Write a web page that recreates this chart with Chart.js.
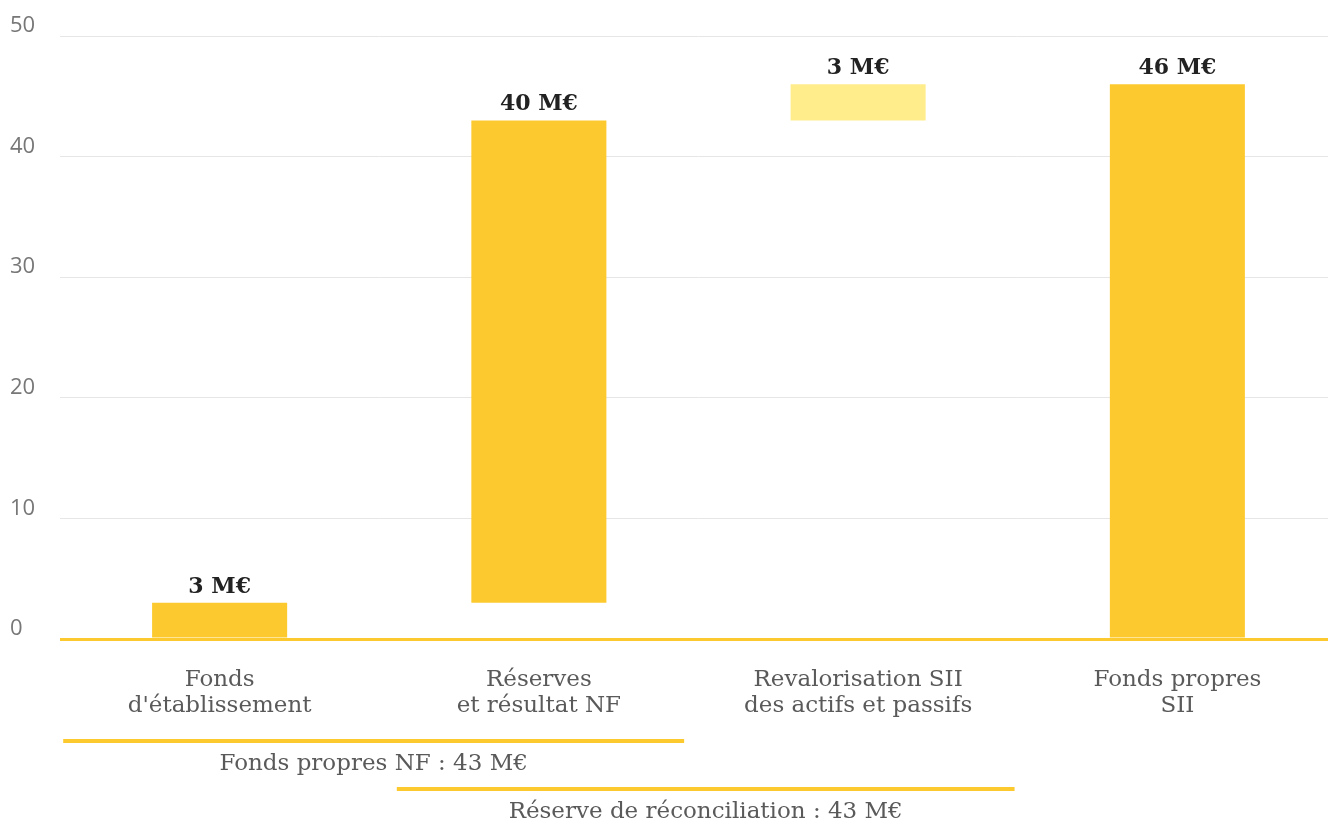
<!DOCTYPE html>
<html>
<head>
<meta charset="utf-8">
<script src="https://cdn.jsdelivr.net/npm/chart.js@4"></script>
<style>
  html, body { margin: 0; padding: 0; background: #fff; overflow: hidden; }
  .container-canva { position: relative; width: 1337px; height: 820px; }
</style>
</head>
<body>
<div class="container-canva"><canvas id="myChart"></canvas></div>
<script>
const categories = [
	["Fonds", "d'établissement"],
	["Réserves", "et résultat NF"],
	["Revalorisation SII", "des actifs et passifs"],
	["Fonds propres", "SII"],
];
const barStart = [0, 3, 43, 0];
const barEnd = [3, 43, 46, 46];
const valueLabels = ["3 M€", "40 M€", "3 M€", "46 M€"];
const yTicks = [0, 10, 20, 30, 40, 50];

// brackets under the axis, in category index units
const bracketLabels = ["Fonds propres NF : 43 M€", "Réserve de réconciliation : 43 M€"];
const bracketFrom = [-0.49, 0.555];
const bracketTo = [1.455, 2.49];

const yellow = "#fcca2e";
const lightYellow = "#ffed8c";
const barColors = [yellow, yellow, lightYellow, yellow];

const serif = "'DejaVu Serif', serif";

const valueLabelPlugin = {
	id: "valueLabels",
	afterDatasetsDraw(chart) {
		const { ctx } = chart;
		const meta = chart.getDatasetMeta(0);
		ctx.save();
		ctx.font = "bold 22px " + serif;
		ctx.fillStyle = "#222";
		ctx.textAlign = "center";
		ctx.textBaseline = "alphabetic";
		meta.data.forEach((bar, i) => {
			ctx.fillText(valueLabels[i], bar.x, Math.min(bar.y, bar.base) - 10);
		});
		ctx.restore();
	},
};

const bracketPlugin = {
	id: "brackets",
	afterDraw(chart) {
		const { ctx } = chart;
		const x = chart.scales.x;
		ctx.save();
		ctx.font = "23px " + serif;
		ctx.fillStyle = "#5a5a5a";
		ctx.textAlign = "center";
		ctx.textBaseline = "middle";
		ctx.strokeStyle = yellow;
		ctx.lineWidth = 4;
		bracketLabels.forEach((label, i) => {
			const x1 = x.getPixelForValue(bracketFrom[i]);
			const x2 = x.getPixelForValue(bracketTo[i]);
			const y = 741 + i * 48;
			ctx.beginPath();
			ctx.moveTo(x1, y);
			ctx.lineTo(x2, y);
			ctx.stroke();
			ctx.fillText(label, (x1 + x2) / 2, y + 23);
		});
		ctx.restore();
	},
};

new Chart(document.getElementById("myChart"), {
	type: "bar",
	data: {
		labels: categories,
		datasets: [
			{
				data: barStart.map((s, i) => [s, barEnd[i]]),
				backgroundColor: barColors,
				borderWidth: 0,
				categoryPercentage: 1,
				barPercentage: 0.423,
			},
		],
	},
	options: {
		responsive: true,
		maintainAspectRatio: false,
		animation: false,
		layout: { padding: { top: 36, left: 10, right: 0, bottom: 81 } },
		plugins: {
			legend: { display: false },
			tooltip: { enabled: false },
		},
		scales: {
			x: {
				grid: { display: false },
				border: { display: false },
				ticks: {
					font: { family: serif, size: 23, lineHeight: 1.13 },
					color: "#5a5a5a",
					padding: 20,
					maxRotation: 0,
				},
			},
			y: {
				min: 0,
				max: 50,
				afterBuildTicks: (scale) => {
					scale.ticks = yTicks.map((v) => ({ value: v }));
				},
				afterFit: (scale) => {
					scale.width = 50;
				},
				border: { display: false },
				grid: {
					drawTicks: false,
					color: (c) => (c.tick && c.tick.value === 0 ? yellow : "#e6e6e6"),
					lineWidth: (c) => (c.tick && c.tick.value === 0 ? 3 : 1),
				},
				ticks: {
					font: { family: "'Open Sans', sans-serif", size: 22 },
					color: "#777",
					crossAlign: "far",
					labelOffset: -10,
					padding: 0,
				},
			},
		},
	},
	plugins: [valueLabelPlugin, bracketPlugin],
});
</script>
</body>
</html>
